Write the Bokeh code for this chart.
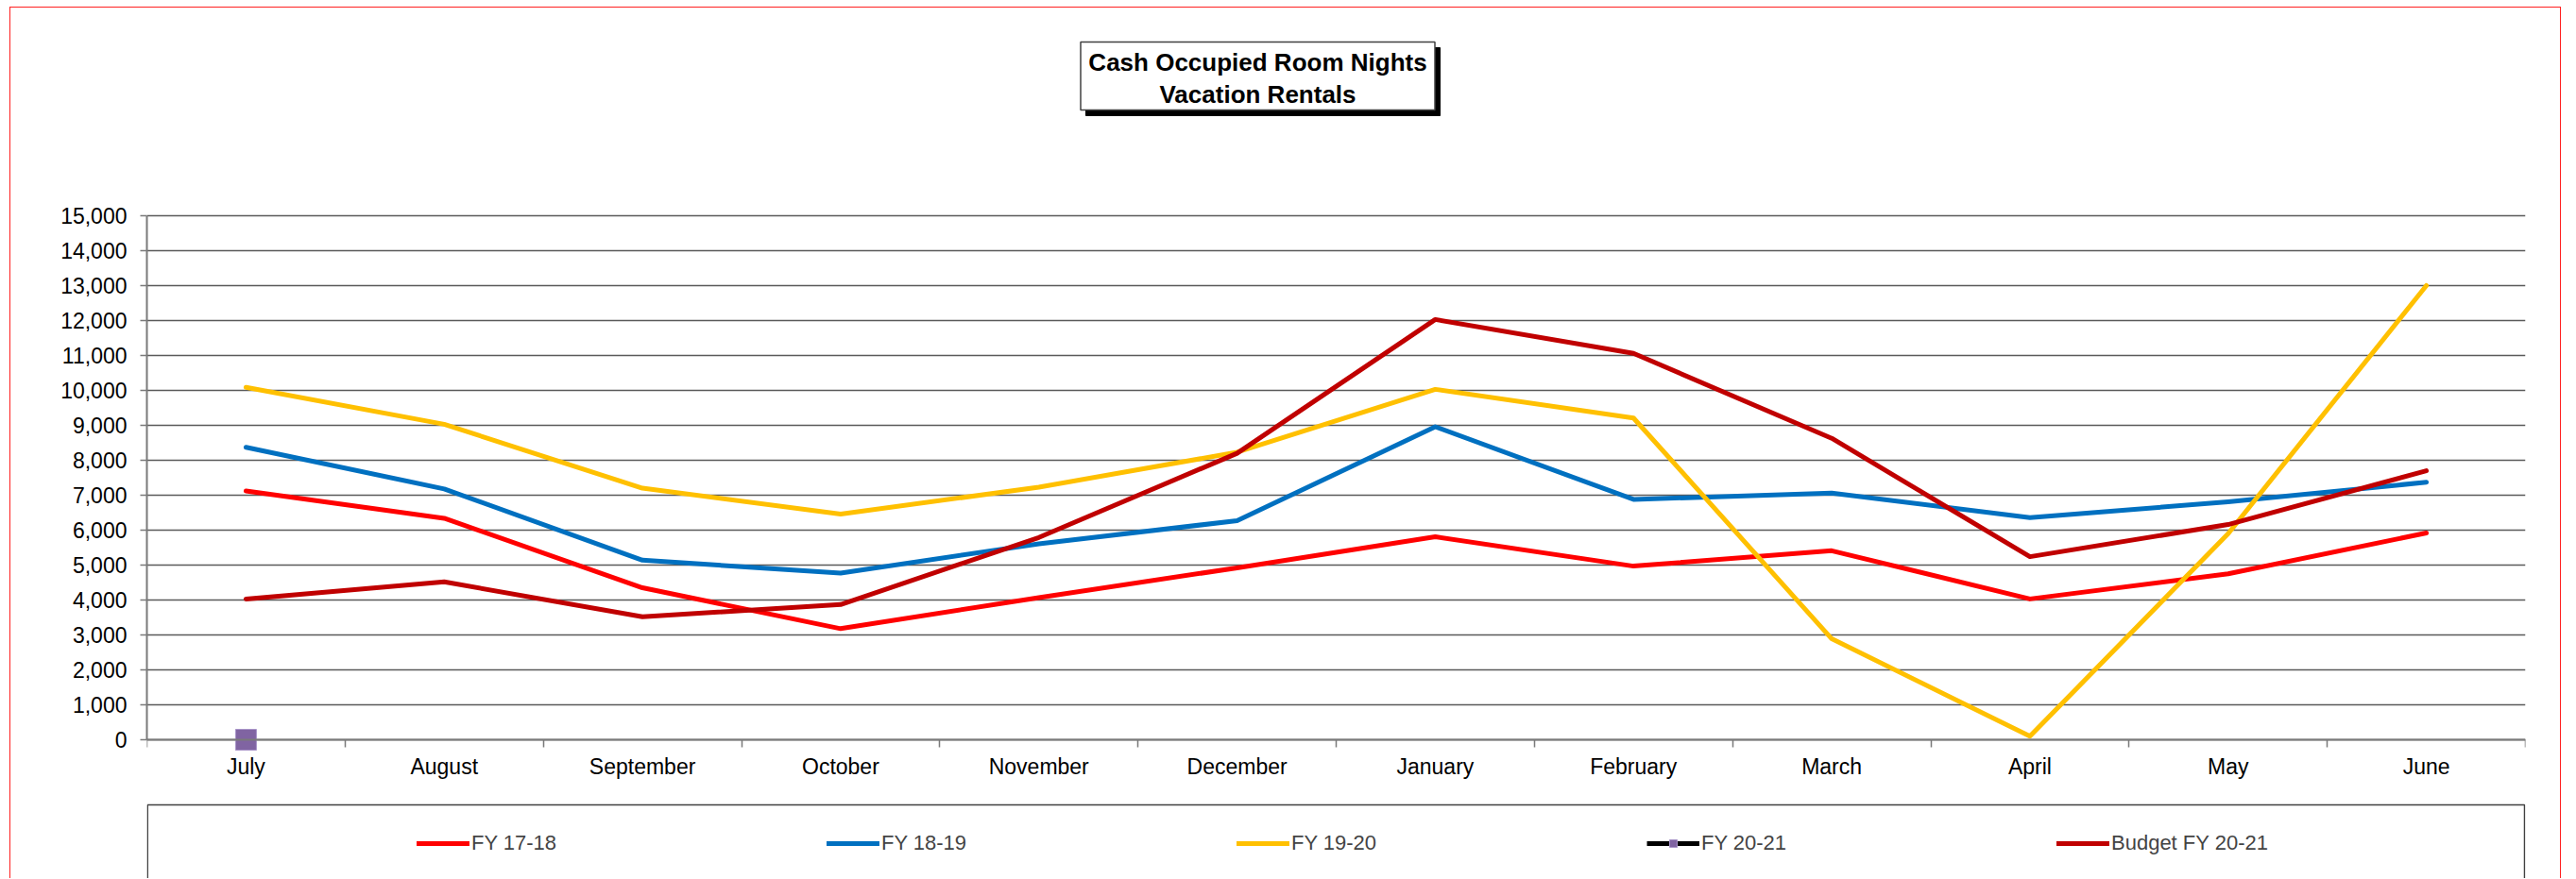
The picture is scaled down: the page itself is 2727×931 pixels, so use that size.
from bokeh.plotting import figure
from bokeh.models import (FixedTicker, NumeralTickFormatter, Legend, LegendItem,
                          BoxAnnotation, Label, Range1d)
from bokeh.embed import file_html
from bokeh.resources import INLINE
import numpy as np

# ---- data ----
months = ["July", "August", "September", "October", "November", "December",
          "January", "February", "March", "April", "May", "June"]
fy1718 = [7120, 6340, 4350, 3180, 4070, 4920, 5810, 4970, 5410, 4030, 4750, 5920]
fy1819 = [8370, 7180, 5140, 4770, 5610, 6270, 8960, 6880, 7060, 6360, 6810, 7370]
fy1920 = [10090, 9030, 7200, 6460, 7230, 8230, 10030, 9210, 2890, 100, 5900, 13000]
fy2021 = [0]
budget2021 = [4030, 4520, 3520, 3870, 5790, 8200, 12030, 11060, 8630, 5240, 6160, 7700]
series_names = ["FY 17-18", "FY 18-19", "FY 19-20", "FY 20-21", "Budget FY 20-21"]
title_lines = ["Cash Occupied Room Nights", "Vacation Rentals"]
y_ticks = list(range(0, 15001, 1000))

FONT = "Liberation Sans"
W, H = 2701, 923

# frame covers the whole canvas height so that title and legend boxes are visible;
# the value axis is bounded to 0..15000
p = figure(width=W, height=H, output_backend="svg", toolbar_location=None,
           x_range=Range1d(0, len(months)), y_range=Range1d(-4000, 20945.9),
           min_border_left=144, min_border_right=39, min_border_top=0, min_border_bottom=0)
p.outline_line_color = None
p.background_fill_color = "white"
p.border_fill_color = "white"
p.styles = {"margin-left": "10px", "margin-top": "7px",
            "border-top": "1px solid #ff2020", "border-left": "1px solid #ff2020",
            "border-right": "1px solid #ff2020"}

xc = np.arange(len(months)) + 0.5

# axes
p.xgrid.visible = False
p.ygrid.ticker = FixedTicker(ticks=y_ticks)
p.ygrid.grid_line_color = "#5a5a5a"
p.ygrid.grid_line_width = 1.5

p.yaxis.ticker = FixedTicker(ticks=y_ticks)
p.yaxis.bounds = (0, 15000)
p.yaxis.formatter = NumeralTickFormatter(format="0,0")
p.yaxis.major_tick_out = 7
p.yaxis.major_tick_in = 0
p.yaxis.minor_tick_line_color = None
p.yaxis.major_label_standoff = 14
p.yaxis.axis_line_color = "#7a7a7a"
p.yaxis.axis_line_width = 2
p.yaxis.major_tick_line_color = "#7a7a7a"
p.yaxis.major_tick_line_width = 1.5

p.xaxis.fixed_location = 0
p.xaxis.ticker = FixedTicker(ticks=list(xc), minor_ticks=list(range(len(months) + 1)))
p.xaxis.major_label_overrides = {float(v): m for v, m in zip(xc, months)}
p.xaxis.major_tick_out = 0
p.xaxis.major_tick_in = 0
p.xaxis.minor_tick_out = 8
p.xaxis.minor_tick_in = 0
p.xaxis.minor_tick_line_color = "#7a7a7a"
p.xaxis.minor_tick_line_width = 1.5
p.xaxis.major_label_standoff = 8
p.xaxis.axis_line_color = "#7a7a7a"
p.xaxis.axis_line_width = 2

for ax in (p.xaxis, p.yaxis):
    ax.major_label_text_font = FONT
    ax.major_label_text_font_size = "23px"
    ax.major_label_text_color = "black"

# series
lw = 5
r1 = p.line(xc, fy1718, line_color="#FF0000", line_width=lw, line_join="round", line_cap="round")
r2 = p.line(xc, fy1819, line_color="#0070C0", line_width=lw, line_join="round", line_cap="round")
r3 = p.line(xc, fy1920, line_color="#FFC000", line_width=lw, line_join="round", line_cap="round")
r4l = p.line(xc[:len(fy2021)], fy2021, line_color="black", line_width=lw)
r4m = p.scatter(xc[:len(fy2021)], fy2021, marker="square", size=22,
                fill_color="#8064A2", line_color="#A894C8", line_width=1)
r5 = p.line(xc, budget2021, line_color="#C00000", line_width=lw, line_join="round", line_cap="round")

# title box with shadow (screen units relative to the frame's bottom-left)
bx = dict(left_units="screen", right_units="screen", top_units="screen", bottom_units="screen")
p.add_layout(BoxAnnotation(left=994, right=1369, top=881, bottom=809, fill_color="black",
                           fill_alpha=1, line_color="black", line_alpha=1, **bx))
p.add_layout(BoxAnnotation(left=988.5, right=1363.5, top=887, bottom=815, fill_color="white",
                           fill_alpha=1, line_color="#404040", line_alpha=1, line_width=1.5, **bx))
for txt, yy in zip(title_lines, [866, 832]):
    p.add_layout(Label(x=1176, y=yy, x_units="screen", y_units="screen", text=txt,
                       text_align="center", text_baseline="middle", text_font=FONT,
                       text_font_style="bold", text_font_size="26px", text_color="black"))

# legend box
p.add_layout(BoxAnnotation(left=0.75, right=2517, top=79, bottom=-20, fill_color="white",
                           fill_alpha=1, line_color="#404040", line_alpha=1, line_width=1.5, **bx))

renders = [[r1], [r2], [r3], [r4l, r4m], [r5]]
legend = Legend(items=[LegendItem(label=n, renderers=r) for n, r in zip(series_names, renders)],
                orientation="horizontal", location=(286, 25), glyph_width=56, glyph_height=20,
                label_width=120, label_standoff=2, spacing=256, padding=0, margin=0,
                border_line_alpha=0, background_fill_alpha=0,
                label_text_font=FONT, label_text_font_size="22px")
p.add_layout(legend, "center")

open("out.html", "w").write(file_html(p, INLINE))
